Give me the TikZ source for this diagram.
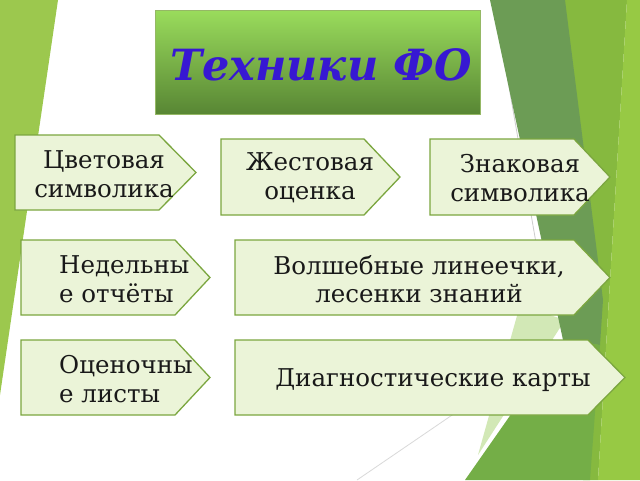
\documentclass[tikz,border=0pt]{standalone}
\usepackage{fontspec}
\setmainfont{DejaVu Serif}
\begin{document}
\begin{tikzpicture}[x=1pt,y=-1pt,
  arrowbox/.style={draw=boxline,fill=boxfill,line width=1.3pt,line join=miter},
  lbl/.style={inner sep=0pt,text=black!90,font=\fontsize{24.5}{28.5}\selectfont},
]
\definecolor{boxline}{HTML}{7BA63F}
\definecolor{boxfill}{HTML}{EBF4D8}
\definecolor{leftgreen}{HTML}{9CC84E}
\definecolor{darkband}{HTML}{6C9C55}
\definecolor{midgreen}{HTML}{74AE47}
\definecolor{brightA}{HTML}{86B93F}
\definecolor{brightB}{HTML}{97C944}
\definecolor{lightgr}{HTML}{D2E8B6}
\definecolor{titletext}{HTML}{3718D2}
\useasboundingbox (0,0) rectangle (640,480);
\fill[white] (0,0) rectangle (640,480);
% background facets
\fill[leftgreen] (0,0) -- (58,0) -- (0,395) -- cycle;
\draw[gray!40,line width=0.8pt] (494,0) -- (577,480);
\draw[gray!30,line width=0.8pt] (357,480) -- (480,396);
\fill[lightgr] (520,305) -- (565,320) -- (478,455) -- cycle;
\fill[brightA] (565,0) -- (627,0) -- (598,480) -- (583,480) -- cycle;
\fill[brightB] (627,0) -- (640,0) -- (640,480) -- (598,480) -- cycle;
\fill[darkband] (490,0) -- (565,0) -- (603,300) -- (600,345) -- (563,340) -- cycle;
\fill[midgreen] (563,340) -- (600,345) -- (590,480) -- (465,480) -- cycle;
% title
\shade[top color={rgb,255:red,154;green,220;blue,92}, bottom color={rgb,255:red,88;green,134;blue,52}] (155,10) rectangle (480,114);
\draw[boxline!80,line width=1pt] (155,10) rectangle (480,114);
\node[inner sep=0pt,text=titletext,font=\fontsize{43}{48}\selectfont\bfseries\itshape] (title) at (321,65) {Техники ФО};
% row 1
\draw[arrowbox] (15,135) -- (159,135) -- (196,172.5) -- (159,210) -- (15,210) -- cycle;
\node[lbl,align=center] (b1) at (104,174) {Цветовая\\символика};
\draw[arrowbox] (221,139) -- (364,139) -- (400,177) -- (364,215) -- (221,215) -- cycle;
\node[lbl,align=center] (b2) at (310,178) {Жестовая\\оценка};
\draw[arrowbox] (430,139) -- (574,139) -- (610,177) -- (574,215) -- (430,215) -- cycle;
\node[lbl,align=center] (b3) at (520,178) {Знаковая\\символика};
% row 2
\draw[arrowbox] (21,240) -- (175,240) -- (210,277.5) -- (175,315) -- (21,315) -- cycle;
\node[lbl,align=left,anchor=west] (b4) at (59,279) {Недельны\\е отчёты};
\draw[arrowbox] (235,240) -- (574,240) -- (610,277.5) -- (574,315) -- (235,315) -- cycle;
\node[lbl,align=center] (b5) at (419,279) {Волшебные линеечки,\\лесенки знаний};
% row 3
\draw[arrowbox] (21,340) -- (175,340) -- (210,377.5) -- (175,415) -- (21,415) -- cycle;
\node[lbl,align=left,anchor=west] (b6) at (59,379) {Оценочны\\е листы};
\draw[arrowbox] (235,340) -- (588,340) -- (625,377.5) -- (588,415) -- (235,415) -- cycle;
\node[lbl] (b7) at (433,380) {Диагностические карты};
\end{tikzpicture}
\end{document}
